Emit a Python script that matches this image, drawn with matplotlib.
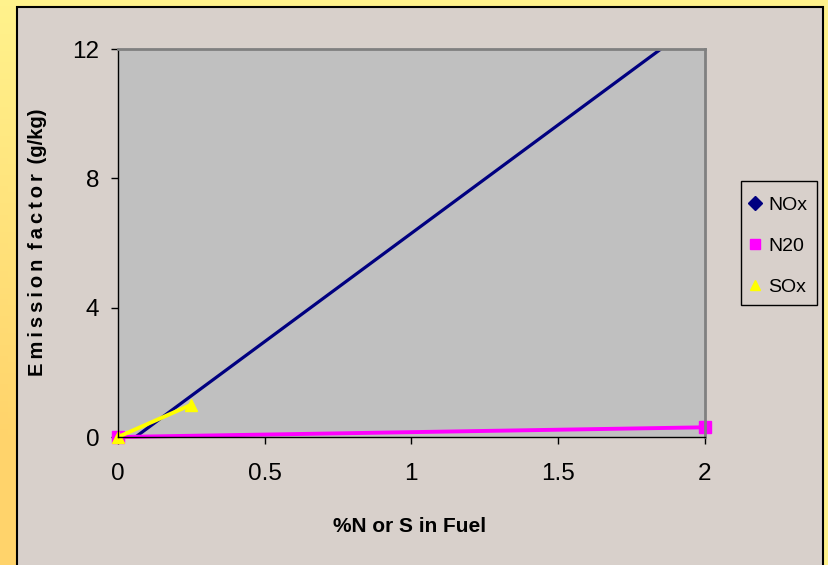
import numpy as np
import matplotlib.pyplot as plt
from matplotlib.patches import Rectangle

# data
nox_x = [0.0, 2.0]
nox_y = [-0.4, 13.0]
n2o_x = [0.0, 2.0]
n2o_y = [0.0, 0.3]
sox_x = [0.0, 0.25]
sox_y = [0.0, 1.0]

x_ticks = [0, 0.5, 1, 1.5, 2]
x_labels = ["0", "0.5", "1", "1.5", "2"]
y_ticks = [0, 4, 8, 12]

plt.rcParams['font.family'] = ['Liberation Sans', 'DejaVu Sans']

W, H = 829, 565
fig = plt.figure(figsize=(W / 100, H / 100), dpi=100)

# yellow/orange gradient behind everything
bg = fig.add_axes([0, 0, 1, 1], zorder=-10)
gy, gx = np.mgrid[0:1:100j, 0:1:100j]
t = np.clip(gy * (1 - gx) * 1.3, 0, 1)
top = np.array([1.0, 0.95, 0.55])
bot = np.array([1.0, 0.83, 0.42])
img = top[None, None, :] * (1 - t[..., None]) + bot[None, None, :] * t[..., None]
bg.imshow(img, extent=[0, 1, 0, 1], aspect='auto')
bg.set_axis_off()

# chart area
fig.patches.append(Rectangle((17 / W, -0.01), (823 - 17) / W, (565 - 6.7) / H + 0.01,
                             transform=fig.transFigure, facecolor='#d8d0cb',
                             edgecolor='black', linewidth=1.5, zorder=-5))
# legend box
fig.patches.append(Rectangle((741 / W, 1 - 305 / H), (817 - 741) / W, (305 - 181) / H,
                             transform=fig.transFigure, facecolor='#d8d0cb',
                             edgecolor='black', linewidth=1, zorder=-4))

ax = fig.add_axes([118 / W, (565 - 437) / H, (704.7 - 118) / W, (437 - 49) / H])
ax.set_facecolor('#c0c0c0')

ax.plot(nox_x, nox_y, color='#000080', linewidth=2.3, marker='D', markersize=7, label='NOx')
ax.plot(n2o_x, n2o_y, color='#ff00ff', linewidth=2.8, marker='s', markersize=8,
        label='N20', clip_on=False)
ax.plot(sox_x, sox_y, color='#ffff00', linewidth=2.8, marker='^', markersize=9,
        label='SOx', clip_on=False)

ax.set_xlim(0, 2)
ax.set_ylim(0, 12)
ax.set_xticks(x_ticks)
ax.set_xticklabels(x_labels)
ax.set_yticks(y_ticks)
ax.tick_params(direction='out', length=5, width=1, colors='black', labelsize=17.5)
ax.tick_params(axis='x', pad=14)
ax.tick_params(axis='y', pad=8.5)

for s in ['top', 'right']:
    ax.spines[s].set_color('#808080')
    ax.spines[s].set_linewidth(2)
for s in ['left', 'bottom']:
    ax.spines[s].set_color('black')
    ax.spines[s].set_linewidth(1)

fig.text(410 / W, 1 - 527 / H, '%N or S in Fuel', ha='center', va='center',
         fontsize=15, fontweight='bold')
ylab = '\u2009'.join('Emission') + ' \u2009' + '\u2009'.join('factor') + ' \u2009(g/kg)'
fig.text(38 / W, 1 - 242.5 / H, ylab, ha='center', va='center',
         rotation=90, fontsize=14.5, fontweight='bold')

handles, labels = ax.get_legend_handles_labels()
leg_handles = []
for h in handles:
    leg_handles.append(plt.Line2D([], [], linestyle='none', marker=h.get_marker(),
                                  color=h.get_color(), markersize=7))
leg = fig.legend(leg_handles, labels, loc='upper left',
                 bbox_to_anchor=(750 / W, 1 - 196 / H), bbox_transform=fig.transFigure,
                 fontsize=14, frameon=False, handlelength=0.5, handletextpad=0.45,
                 labelspacing=1.2, borderpad=0, borderaxespad=0)

fig.savefig('out.png', dpi=100)
